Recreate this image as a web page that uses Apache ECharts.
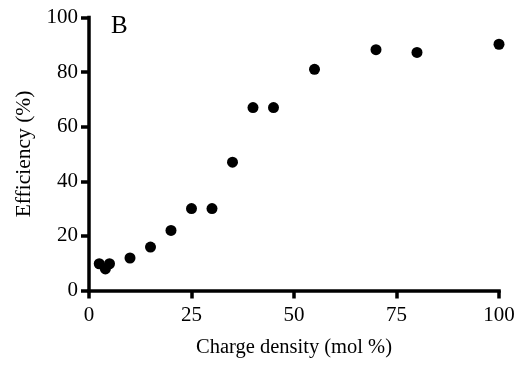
<!DOCTYPE html>
<html><head><meta charset="utf-8">
<script src="https://cdn.jsdelivr.net/npm/echarts@6/dist/echarts.min.js"></script>
<style>html,body{margin:0;padding:0;background:#fff}#c{width:525px;height:370px}</style>
</head><body><div id="c"></div>
<script>
const chargeDensity = [2.5, 4, 5, 10, 15, 20, 25, 30, 35, 40, 45, 55, 70, 80, 100];
const efficiency = [9.8, 7.9, 9.8, 11.9, 15.9, 22, 30, 30, 47, 67, 67, 81, 88.2, 87.2, 90.2];
const xTicks = [0, 25, 50, 75, 100];
const yTicks = [0, 20, 40, 60, 80, 100];
const panelLabel = 'B';
const xTitle = 'Charge density (mol %)';
const yTitle = 'Efficiency (%)';

const font = 'Liberation Serif, Times New Roman, serif';
const chart = echarts.init(document.getElementById('c'));
function makeAxis(extra) {
  return Object.assign({
    type: 'value',
    axisLine: {show: true, onZero: false, lineStyle: {color: '#000', width: 3.5, cap: 'square'}},
    axisTick: {show: true, length: 8, lineStyle: {color: '#000', width: 3.5}},
    splitLine: {show: false},
    nameLocation: 'middle'
  }, extra);
}
chart.setOption({
  animation: false,
  title: {text: panelLabel, left: 106, top: 9, textStyle: {fontFamily: font, fontSize: 25, fontWeight: 'normal', color: '#000'}},
  grid: {left: 89, right: 26, top: 17.5, bottom: 79.5},
  xAxis: makeAxis({
    min: xTicks[0], max: xTicks[xTicks.length - 1], interval: 25,
    name: xTitle, nameGap: 47,
    nameTextStyle: {color: '#000', fontFamily: font, fontSize: 20.5},
    axisLabel: {color: '#000', fontFamily: font, fontSize: 21, margin: 14}
  }),
  yAxis: makeAxis({
    min: yTicks[0], max: yTicks[yTicks.length - 1], interval: 20,
    name: yTitle, nameGap: 54,
    nameTextStyle: {color: '#000', fontFamily: font, fontSize: 21.5},
    axisLabel: {color: '#000', fontFamily: font, fontSize: 21, margin: 11}
  }),
  series: [{
    type: 'scatter', symbol: 'circle', symbolSize: 11,
    itemStyle: {color: '#000', opacity: 1},
    data: chargeDensity.map((x, i) => [x, efficiency[i]])
  }]
});
</script></body></html>
